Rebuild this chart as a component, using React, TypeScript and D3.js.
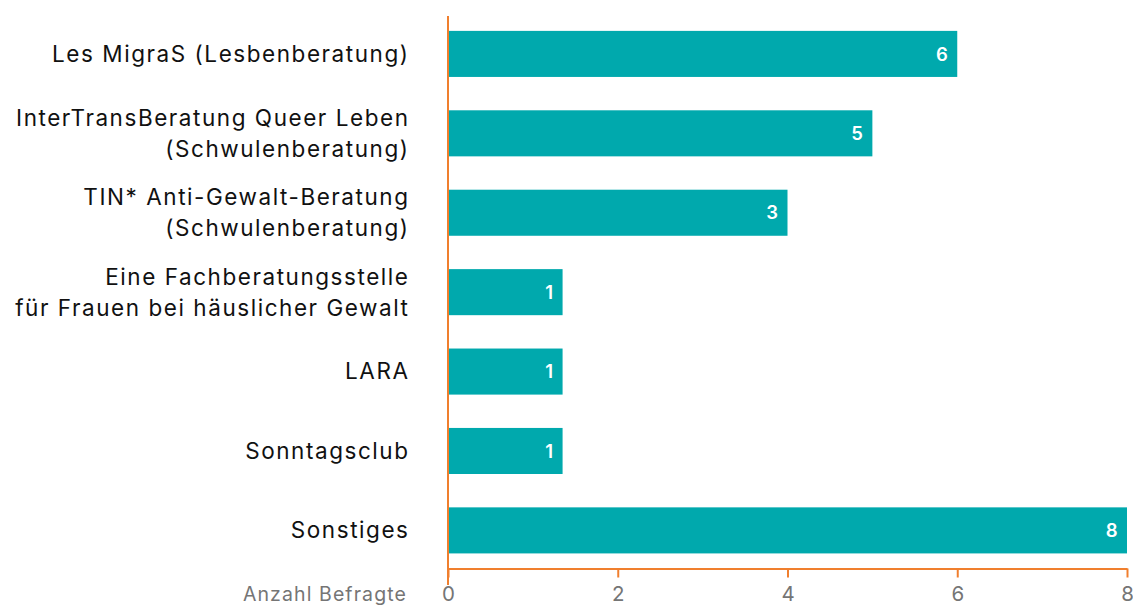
import React, { useEffect, useRef } from 'react';
import * as d3 from 'd3';

// categories (line breaks as in the chart)
const categories = [
  ['Les MigraS (Lesbenberatung)'],
  ['InterTransBeratung Queer Leben', '(Schwulenberatung)'],
  ['TIN* Anti-Gewalt-Beratung', '(Schwulenberatung)'],
  ['Eine Fachberatungsstelle', 'für Frauen bei häuslicher Gewalt'],
  ['LARA'],
  ['Sonntagsclub'],
  ['Sonstiges'],
];
// numbers printed on the bars
const labelValues = [6, 5, 3, 1, 1, 1, 8];
// bar lengths as drawn in the picture
const barValues = [6, 5, 4, 1.35, 1.35, 1.35, 8];
const xTicks = [0, 2, 4, 6, 8];
const axisTitle = 'Anzahl Befragte';

const TEAL = '#00a9ad';
const ORANGE = '#f07f2e';
const FONT = 'Inter, "Noto Sans", sans-serif';

export default function App() {
  const ref = useRef<SVGSVGElement>(null);

  useEffect(() => {
    const width = 1133;
    const height = 607;
    const svg = d3.select(ref.current);
    svg.selectAll('*').remove();

    const x = d3.scaleLinear().domain([0, 8]).range([448, 1127]);
    const y = d3.scaleBand()
      .domain(categories.map((d, i) => String(i)))
      .range([15, 569.3])
      .paddingInner(0.42)
      .paddingOuter(0.2);

    // bars
    svg.append('g')
      .selectAll('rect')
      .data(barValues)
      .join('rect')
      .attr('x', x(0))
      .attr('y', (d, i) => y(String(i))!)
      .attr('width', d => x(d) - x(0))
      .attr('height', y.bandwidth())
      .attr('fill', TEAL);

    // value labels
    svg.append('g')
      .selectAll('text')
      .data(barValues)
      .join('text')
      .attr('x', d => x(d) - 9)
      .attr('y', (d, i) => y(String(i))! + y.bandwidth() / 2)
      .attr('dy', '0.36em')
      .attr('text-anchor', 'end')
      .attr('fill', '#fff')
      .style('font-family', FONT)
      .style('font-size', '18.5px')
      .style('font-weight', 600)
      .style('letter-spacing', '0.5px')
      .text((d, i) => labelValues[i]);

    // category labels
    const lab = svg.append('g')
      .selectAll('text')
      .data(categories)
      .join('text')
      .attr('text-anchor', 'end')
      .attr('fill', '#111')
      .style('font-family', FONT)
      .style('font-size', '22.5px')
      .style('letter-spacing', '1.55px')
      .attr('transform', (d, i) => `translate(409.5,${y(String(i))! + y.bandwidth() / 2})`);
    lab.selectAll('tspan')
      .data(d => d.map((t, j) => ({ t, j, n: d.length })))
      .join('tspan')
      .attr('x', 0)
      .attr('y', d => (d.j - (d.n - 1) / 2) * 31)
      .attr('dy', '0.35em')
      .text(d => d.t);

    // x axis
    const xAxis = svg.append('g')
      .attr('transform', 'translate(0,568.5)')
      .call(d3.axisBottom(x).tickValues(xTicks).tickSize(9).tickSizeOuter(0).tickPadding(9));
    xAxis.select('.domain').attr('stroke', ORANGE).attr('stroke-width', 2);
    xAxis.selectAll('.tick line').attr('stroke', ORANGE).attr('stroke-width', 2);
    xAxis.selectAll('.tick text')
      .attr('fill', '#757575')
      .style('font-family', FONT)
      .style('font-size', '20.5px');

    // y axis line
    svg.append('line')
      .attr('x1', x(0)).attr('x2', x(0))
      .attr('y1', 16).attr('y2', 585)
      .attr('stroke', ORANGE)
      .attr('stroke-width', 2);

    svg.append('text')
      .attr('x', 407)
      .attr('y', 601)
      .attr('text-anchor', 'end')
      .attr('fill', '#757575')
      .style('font-family', FONT)
      .style('font-size', '19.5px')
      .style('letter-spacing', '1.1px')
      .text(axisTitle);

    svg.attr('width', width).attr('height', height);
  }, []);

  return <svg ref={ref} style={{ position: 'absolute', left: 0, top: 0 }} />;
}
